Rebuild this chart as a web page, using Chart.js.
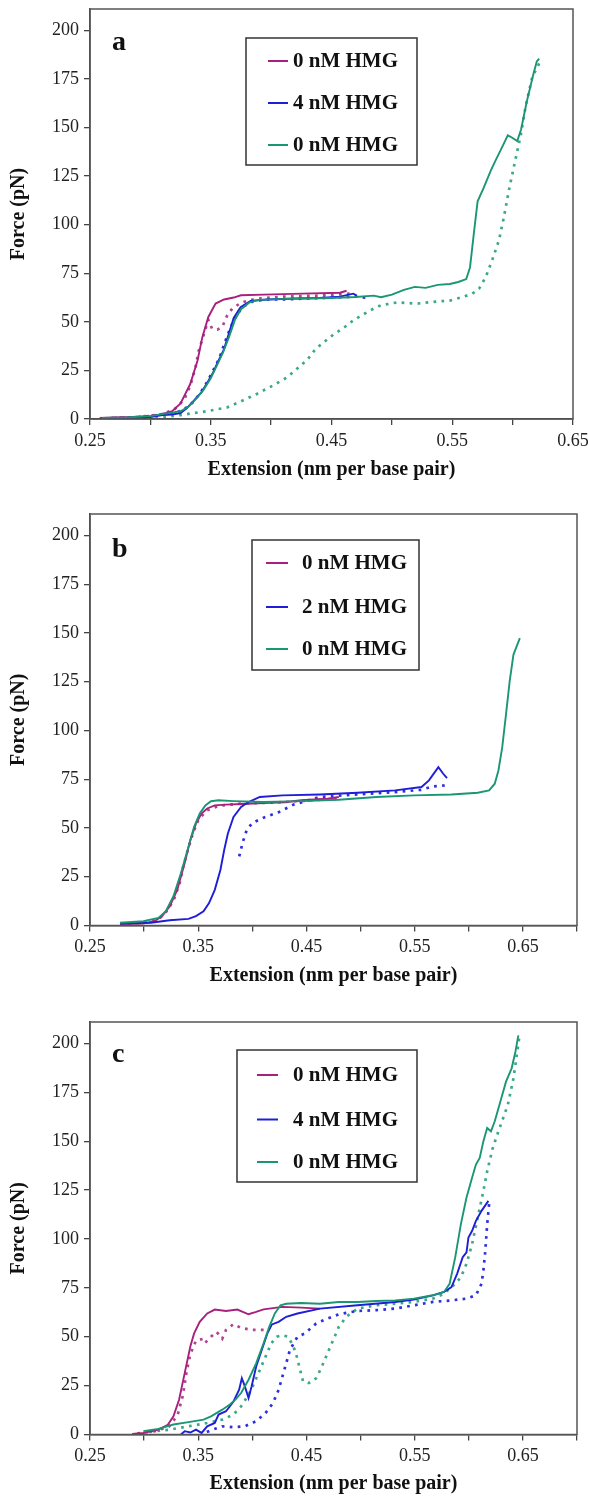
<!DOCTYPE html>
<html>
<head>
<meta charset="utf-8">
<script src="https://cdn.jsdelivr.net/npm/chart.js@4.4.1/dist/chart.umd.min.js"></script>
<style>
  body { margin: 0; background: #fff; width: 589px; height: 1500px; position: relative; overflow: hidden; }
  .panel { position: absolute; left: 0; width: 589px; height: 486px; }
</style>
</head>
<body>
<div class="panel" style="top:0px"><canvas id="chartA"></canvas></div>
<div class="panel" style="top:506px"><canvas id="chartB"></canvas></div>
<div class="panel" style="top:1014px"><canvas id="chartC"></canvas></div>
<script>
// ---- axes ----
const forceTicks = [0, 25, 50, 75, 100, 125, 150, 175, 200];
const extTicks = [0.25, 0.30, 0.35, 0.40, 0.45, 0.50, 0.55, 0.60, 0.65, 0.70];
const extLabels = ['0.25', '0.35', '0.45', '0.55', '0.65'];

// ---- panel a ----
const aLabels = ['0 nM HMG', '4 nM HMG', '0 nM HMG'];
const aMagUpExt = [0.258, 0.27, 0.285, 0.30, 0.31, 0.318, 0.325, 0.333, 0.339, 0.343, 0.348, 0.354, 0.361, 0.369, 0.375, 0.394, 0.426, 0.457, 0.4625];
const aMagUpF = [0.5, 0.8, 1, 1.5, 2.5, 4, 8, 18, 30, 42, 52.5, 59.4, 61.5, 62.5, 63.7, 64, 64.5, 65, 66];
const aMagDnExt = [0.465, 0.44, 0.41, 0.39, 0.381, 0.3747, 0.3678, 0.3637, 0.3595, 0.3554, 0.351, 0.348, 0.345, 0.340, 0.3374, 0.333, 0.328, 0.32, 0.31, 0.29, 0.265];
const aMagDnF = [64.5, 63.5, 63, 62, 61, 59.7, 56.8, 53.4, 47.3, 46, 46.5, 51, 45, 35, 26.6, 17, 10, 5, 2.5, 1, 0.5];
const aBlueUpExt = [0.262, 0.28, 0.30, 0.31, 0.318, 0.325, 0.33, 0.336, 0.342, 0.347, 0.352, 0.356, 0.361, 0.365, 0.369, 0.3747, 0.383, 0.397, 0.42, 0.44, 0.457, 0.468, 0.471];
const aBlueUpF = [0.3, 0.5, 1, 2, 2.3, 3, 5.5, 9.5, 13.5, 18.5, 24, 29.5, 36, 44, 52, 57.5, 60.8, 61.5, 62, 62.3, 63, 64.5, 63.5];
const aBlueDnExt = [0.478, 0.47, 0.45, 0.43, 0.41, 0.395, 0.385, 0.377, 0.372, 0.367, 0.362, 0.357, 0.352, 0.347, 0.341, 0.335, 0.328, 0.32, 0.31, 0.30, 0.285, 0.27];
const aBlueDnF = [62.5, 63, 62.5, 62, 61.5, 61.5, 60.5, 58, 54, 48, 40, 31, 25, 19, 13, 8.5, 5, 3, 2.5, 1.5, 0.8, 0.5];
const aGreenUpExt = [0.26, 0.28, 0.30, 0.315, 0.325, 0.332, 0.338, 0.344, 0.35, 0.355, 0.36, 0.365, 0.37, 0.375, 0.382, 0.39, 0.41, 0.43, 0.45, 0.47, 0.485, 0.491, 0.5, 0.51, 0.519, 0.528, 0.538, 0.548, 0.555, 0.5616, 0.5647, 0.5678, 0.571, 0.576, 0.582, 0.5866, 0.591, 0.596, 0.599, 0.6038, 0.607, 0.6116, 0.617, 0.62, 0.622];
const aGreenUpF = [0.5, 0.8, 1.5, 3, 4, 6.5, 10.5, 15, 21, 27.5, 34, 42, 51, 56.5, 60, 61.3, 61.8, 62, 62.3, 62.8, 63.5, 62.7, 64, 66.5, 68, 67.5, 69, 69.5, 70.5, 72, 78, 95, 112, 119, 128, 134, 139.5, 146, 145, 143, 149, 163, 177, 184, 185.5];
const aGreenDnExt = [0.622, 0.6163, 0.6108, 0.6067, 0.6011, 0.597, 0.5928, 0.5887, 0.5832, 0.5777, 0.5721, 0.5666, 0.5597, 0.5487, 0.5348, 0.5211, 0.5045, 0.4907, 0.4824, 0.4686, 0.4603, 0.4517, 0.4465, 0.4368, 0.43, 0.4217, 0.4134, 0.4023, 0.3885, 0.3747, 0.3637, 0.347, 0.335, 0.325, 0.31, 0.29, 0.27];
const aGreenDnF = [183, 176, 161, 146, 130, 118, 104, 92, 82, 73, 67, 64.5, 63, 61, 60.3, 59.4, 60, 58.5, 56, 51, 47, 43.5, 41, 36, 30.5, 26, 21.5, 17.5, 13, 9, 6, 4, 3, 2, 1, 0.5, 0.3];

// ---- panel b ----
const bLabels = ['0 nM HMG', '2 nM HMG', '0 nM HMG'];
const bMagUpExt = [0.2778, 0.299, 0.3097, 0.3167, 0.3236, 0.3306, 0.3375, 0.3427, 0.348, 0.353, 0.3583, 0.3653, 0.3757, 0.39, 0.4104, 0.43, 0.4451, 0.4694, 0.4799];
const bMagUpF = [0.8, 1, 2.2, 4.8, 9.8, 18.3, 32, 43.8, 52.3, 57.4, 60, 61.6, 62, 62.3, 62.8, 63.2, 64.2, 65, 65.9];
const bMagDnExt = [0.478, 0.45, 0.42, 0.39, 0.37, 0.358, 0.35, 0.345, 0.34, 0.336, 0.333, 0.328, 0.322, 0.315, 0.305, 0.29, 0.279];
const bMagDnF = [65, 64, 63, 62.5, 61.5, 59, 54, 47, 38, 30, 22, 14, 8, 4, 2, 1, 0.8];
const bBlueUpExt = [0.2778, 0.3063, 0.3236, 0.341, 0.3479, 0.3549, 0.36, 0.3653, 0.3705, 0.374, 0.3774, 0.3826, 0.3896, 0.3965, 0.4069, 0.4278, 0.4625, 0.4972, 0.532, 0.5563, 0.5632, 0.5719, 0.5764, 0.5799];
const bBlueUpF = [1, 1.4, 2.7, 3.4, 4.8, 7.3, 11.5, 18.3, 28.5, 38.7, 47.2, 55.7, 60.8, 63.3, 65.9, 66.7, 67.2, 68.1, 69.3, 71, 74.4, 81.2, 77.8, 75.6];
const bBlueDnExt = [0.5778, 0.5667, 0.5563, 0.532, 0.4972, 0.4625, 0.4382, 0.4243, 0.4104, 0.4, 0.3948, 0.3913, 0.3878];
const bBlueDnF = [71.8, 71.3, 69.6, 68.4, 67.2, 65.9, 62, 58.1, 55.3, 52.6, 48.9, 43, 35.3];
const bGreenUpExt = [0.2778, 0.2993, 0.3132, 0.3201, 0.3271, 0.334, 0.341, 0.3462, 0.3514, 0.3566, 0.3618, 0.3688, 0.3826, 0.4104, 0.4451, 0.4799, 0.5146, 0.5493, 0.584, 0.6083, 0.6188, 0.624, 0.6274, 0.6309, 0.6344, 0.6378, 0.6413, 0.6472];
const bGreenUpF = [1.4, 2.2, 3.9, 7.3, 15, 26.8, 40.4, 50.6, 57.4, 61.6, 63.7, 64.2, 63.8, 63.3, 63.8, 64.5, 65.9, 66.7, 67.2, 68.1, 69.3, 72.7, 79.5, 91.3, 108.3, 125.3, 138.9, 147.4];

// ---- panel c ----
const cLabels = ['0 nM HMG', '4 nM HMG', '0 nM HMG'];
const cMagUpExt = [0.2889, 0.2993, 0.3132, 0.3219, 0.3271, 0.3323, 0.3375, 0.3427, 0.3462, 0.3514, 0.3583, 0.3653, 0.3757, 0.3861, 0.3965, 0.4035, 0.4104, 0.4278, 0.4451, 0.4625];
const cMagUpF = [0.3, 0.8, 2.5, 5, 9.3, 17.8, 31.4, 45, 51.7, 57.6, 61.9, 63.9, 63.2, 63.9, 61.5, 62.7, 64, 65.3, 64.9, 64.4];
const cMagDnExt = [0.4104, 0.4, 0.3896, 0.3826, 0.3757, 0.3722, 0.367, 0.3618, 0.3566, 0.3549, 0.3479, 0.3427, 0.3392, 0.3358, 0.331, 0.323, 0.31, 0.289];
const cMagDnF = [53.5, 53.5, 54.5, 56.5, 53.5, 49, 52.5, 50, 47, 49, 48, 41, 32, 20, 10, 4, 1.7, 0.3];
const cBlueUpExt = [0.334, 0.3375, 0.3427, 0.3479, 0.3531, 0.3583, 0.3653, 0.3688, 0.3757, 0.3826, 0.3878, 0.3903, 0.3931, 0.3965, 0.3993, 0.4035, 0.4087, 0.4139, 0.4181, 0.4243, 0.4313, 0.4417, 0.4625, 0.4972, 0.532, 0.5493, 0.5667, 0.5771, 0.584, 0.5892, 0.5944, 0.5979, 0.5997, 0.6031, 0.6066, 0.6118, 0.6181];
const cBlueUpF = [0, 1.7, 1, 2.5, 0.8, 4.2, 5.9, 10.2, 11.9, 16.9, 22.9, 28.8, 24.6, 18.6, 24.6, 34.7, 43.2, 51.7, 56.3, 57.6, 60.2, 61.9, 64.4, 66.1, 67.8, 69, 71.2, 72.9, 75.4, 82.2, 90.7, 93.2, 100.8, 104.2, 109.3, 114.4, 119.5];
const cBlueDnExt = [0.6188, 0.617, 0.6153, 0.6135, 0.6118, 0.6066, 0.5979, 0.584, 0.5667, 0.5493, 0.532, 0.5146, 0.4972, 0.4799, 0.4694, 0.459, 0.4486, 0.4417, 0.4347, 0.4313, 0.4278, 0.4243, 0.4191, 0.4122, 0.4035, 0.3931, 0.3826, 0.3722, 0.3618, 0.3549];
const cBlueDnF = [117.8, 107.6, 94, 83.9, 77.1, 71.2, 69.5, 68.6, 67.8, 66.1, 64.4, 63.6, 63.2, 61.5, 59.3, 56.8, 51.7, 50, 43.2, 36.4, 29.7, 22.9, 16.1, 11, 6.8, 4.2, 3.7, 4.2, 2.2, 0.5];
const cGreenUpExt = [0.2993, 0.3132, 0.3271, 0.341, 0.3549, 0.3618, 0.3722, 0.3792, 0.3844, 0.3896, 0.3965, 0.4035, 0.4104, 0.4156, 0.4208, 0.426, 0.4313, 0.4451, 0.4625, 0.4799, 0.4972, 0.5146, 0.532, 0.5493, 0.5667, 0.5771, 0.5823, 0.5875, 0.5927, 0.5979, 0.6031, 0.6066, 0.6101, 0.6135, 0.617, 0.6205, 0.624, 0.6292, 0.6344, 0.6396, 0.6431, 0.6458];
const cGreenUpF = [1.7, 2.9, 5.1, 6.3, 7.6, 9.3, 12.7, 15.3, 17.8, 21.2, 28, 36.4, 46.6, 55.1, 61.9, 66.1, 66.9, 67.3, 66.9, 67.8, 67.8, 68.3, 68.6, 69.5, 71.2, 72.9, 77.1, 90.7, 107.6, 121.2, 131.4, 138.1, 141.5, 150, 156.8, 155.1, 160.2, 170.3, 180.5, 187.3, 195.8, 204.2];
const cGreenDnExt = [0.6465, 0.6413, 0.6361, 0.6274, 0.6222, 0.617, 0.6135, 0.6083, 0.6031, 0.5979, 0.5927, 0.5875, 0.5771, 0.5667, 0.5493, 0.532, 0.5146, 0.4972, 0.4868, 0.4799, 0.4747, 0.4694, 0.4642, 0.459, 0.4521, 0.4469, 0.4434, 0.4399, 0.4365, 0.433, 0.4278, 0.4226, 0.4174, 0.4122, 0.4069, 0.4017, 0.3965, 0.3896, 0.3826, 0.3722, 0.3583, 0.341, 0.3236, 0.3028];
const cGreenDnF = [202.5, 182.2, 168.6, 155.1, 146.6, 134.7, 124.6, 111, 97.5, 87.3, 80.5, 77.1, 72, 69.5, 67.8, 66.9, 66.1, 64.4, 60.2, 55.1, 48.3, 41.5, 34.7, 28.8, 26.3, 27.1, 34.7, 42.4, 46.6, 50, 50.8, 50, 46.6, 39.8, 33, 26.3, 20.3, 14.4, 10.2, 7.6, 5.9, 4.2, 2.5, 1.2];

// ---- colours ----
const MAG = '#a8207c', BLUE = '#1e1ed8', GREEN = '#1b9673';
const MAG_DOT = '#b0428f', BLUE_DOT = '#2e2ee2', GREEN_DOT = '#3aa98a';

const SERIF = '"Liberation Serif", "Times New Roman", serif';
Chart.defaults.font.family = SERIF;

function pts(ext, f) {
    return ext.map((x, i) => ({ x: x, y: f[i] }));
}

function solid(label, color, ext, f, order) {
    return { label, data: pts(ext, f), borderColor: color, borderWidth: 1.9, pointRadius: 0, tension: 0, fill: false, order };
}

function dotted(color, ext, f, order) {
    return { label: '', data: pts(ext, f), borderColor: color, borderWidth: 2.7, borderDash: [2.7, 5.3], pointRadius: 0, tension: 0, fill: false, order, isDotted: true };
}

// frame, panel letter and boxed legend
const panelDecor = {
    id: 'panelDecor',
    afterDraw(chart, args, o) {
        const { ctx, chartArea: ca } = chart;
        ctx.save();
        ctx.strokeStyle = '#555';
        ctx.lineWidth = 1.5;
        ctx.strokeRect(ca.left, ca.top, ca.right - ca.left, ca.bottom - ca.top);

        ctx.fillStyle = '#111';
        ctx.font = 'bold 28px ' + SERIF;
        ctx.textBaseline = 'alphabetic';
        ctx.textAlign = 'left';
        ctx.fillText(o.letter, o.letterX, o.letterY);

        const b = o.box;
        ctx.fillStyle = '#fff';
        ctx.fillRect(b.x, b.y, b.w, b.h);
        ctx.strokeStyle = '#333';
        ctx.lineWidth = 1.5;
        ctx.strokeRect(b.x, b.y, b.w, b.h);

        const rows = chart.data.datasets.filter(d => !d.isDotted);
        ctx.font = 'bold 21px ' + SERIF;
        ctx.textBaseline = 'middle';
        rows.forEach((ds, i) => {
            const y = o.rows[i];
            ctx.strokeStyle = ds.borderColor;
            ctx.lineWidth = 2;
            ctx.beginPath();
            ctx.moveTo(o.lineX[0], y);
            ctx.lineTo(o.lineX[1], y);
            ctx.stroke();
            ctx.fillStyle = '#111';
            ctx.fillText(ds.label, o.textX, y + 1);
        });
        ctx.restore();
    }
};

function makePanel(id, cfg) {
    new Chart(document.getElementById(id), {
        type: 'line',
        data: { datasets: cfg.datasets },
        plugins: [panelDecor],
        options: {
            responsive: true,
            maintainAspectRatio: false,
            animation: false,
            layout: { padding: { top: cfg.padTop, right: cfg.padRight, left: 0, bottom: 0 } },
            plugins: {
                legend: { display: false },
                tooltip: { enabled: false },
                panelDecor: cfg.decor
            },
            scales: {
                x: {
                    type: 'linear',
                    min: 0.25,
                    max: cfg.xMax,
                    afterBuildTicks: axis => {
                        axis.ticks = extTicks.filter(v => v <= cfg.xMax + 1e-9).map(v => ({ value: v }));
                    },
                    afterFit: axis => {
                        axis.height = cfg.xAxisH;
                        axis.paddingLeft = 0;
                        axis.paddingRight = 0;
                    },
                    ticks: {
                        autoSkip: false,
                        maxRotation: 0,
                        padding: 5,
                        color: '#222',
                        font: { size: 18 },
                        callback: v => {
                            const s = v.toFixed(2);
                            return extLabels.includes(s) ? s : '';
                        }
                    },
                    grid: { drawOnChartArea: false, drawTicks: true, tickLength: 6, color: '#444', lineWidth: 1.3 },
                    border: { display: true, color: '#444', width: 1.5 },
                    title: {
                        display: true,
                        text: 'Extension (nm per base pair)',
                        color: '#111',
                        font: { size: 20, weight: 'bold' },
                        padding: { top: 0, bottom: 4 }
                    }
                },
                y: {
                    min: 0,
                    max: 211,
                    afterBuildTicks: axis => {
                        axis.ticks = forceTicks.map(v => ({ value: v }));
                    },
                    afterFit: axis => {
                        axis.width = 90;
                        axis.paddingTop = 0;
                        axis.paddingBottom = 0;
                    },
                    ticks: { padding: 5, color: '#222', font: { size: 18 } },
                    grid: { drawOnChartArea: false, drawTicks: true, tickLength: 6, color: '#444', lineWidth: 1.3 },
                    border: { display: true, color: '#444', width: 1.5 },
                    title: {
                        display: true,
                        text: 'Force (pN)',
                        color: '#111',
                        font: { size: 20, weight: 'bold' },
                        padding: { top: 7, bottom: 0 }
                    }
                }
            }
        }
    });
}

makePanel('chartA', {
    xMax: 0.65, padTop: 9, padRight: 16, xAxisH: 67,
    datasets: [
        solid(aLabels[0], MAG, aMagUpExt, aMagUpF, 3),
        solid(aLabels[1], BLUE, aBlueUpExt, aBlueUpF, 2),
        solid(aLabels[2], GREEN, aGreenUpExt, aGreenUpF, 1),
        dotted(MAG_DOT, aMagDnExt, aMagDnF, 4),
        dotted(BLUE_DOT, aBlueDnExt, aBlueDnF, 5),
        dotted(GREEN_DOT, aGreenDnExt, aGreenDnF, 6)
    ],
    decor: {
        letter: 'a', letterX: 112, letterY: 50,
        box: { x: 246, y: 38, w: 171, h: 127 },
        rows: [61, 103, 145], lineX: [268, 288], textX: 293
    }
});

makePanel('chartB', {
    xMax: 0.70, padTop: 8, padRight: 12, xAxisH: 66.5,
    datasets: [
        solid(bLabels[0], MAG, bMagUpExt, bMagUpF, 3),
        solid(bLabels[1], BLUE, bBlueUpExt, bBlueUpF, 2),
        solid(bLabels[2], GREEN, bGreenUpExt, bGreenUpF, 1),
        dotted(MAG_DOT, bMagDnExt, bMagDnF, 4),
        dotted(BLUE_DOT, bBlueDnExt, bBlueDnF, 5)
    ],
    decor: {
        letter: 'b', letterX: 112, letterY: 51,
        box: { x: 252, y: 34, w: 167, h: 130 },
        rows: [57, 101, 143], lineX: [266, 288], textX: 302
    }
});

makePanel('chartC', {
    xMax: 0.70, padTop: 8, padRight: 12, xAxisH: 65.5,
    datasets: [
        solid(cLabels[0], MAG, cMagUpExt, cMagUpF, 3),
        solid(cLabels[1], BLUE, cBlueUpExt, cBlueUpF, 2),
        solid(cLabels[2], GREEN, cGreenUpExt, cGreenUpF, 1),
        dotted(MAG_DOT, cMagDnExt, cMagDnF, 4),
        dotted(BLUE_DOT, cBlueDnExt, cBlueDnF, 5),
        dotted(GREEN_DOT, cGreenDnExt, cGreenDnF, 6)
    ],
    decor: {
        letter: 'c', letterX: 112, letterY: 48,
        box: { x: 237, y: 36, w: 180, h: 132 },
        rows: [61, 105.5, 148], lineX: [257, 278], textX: 293
    }
});
</script>
</body>
</html>
